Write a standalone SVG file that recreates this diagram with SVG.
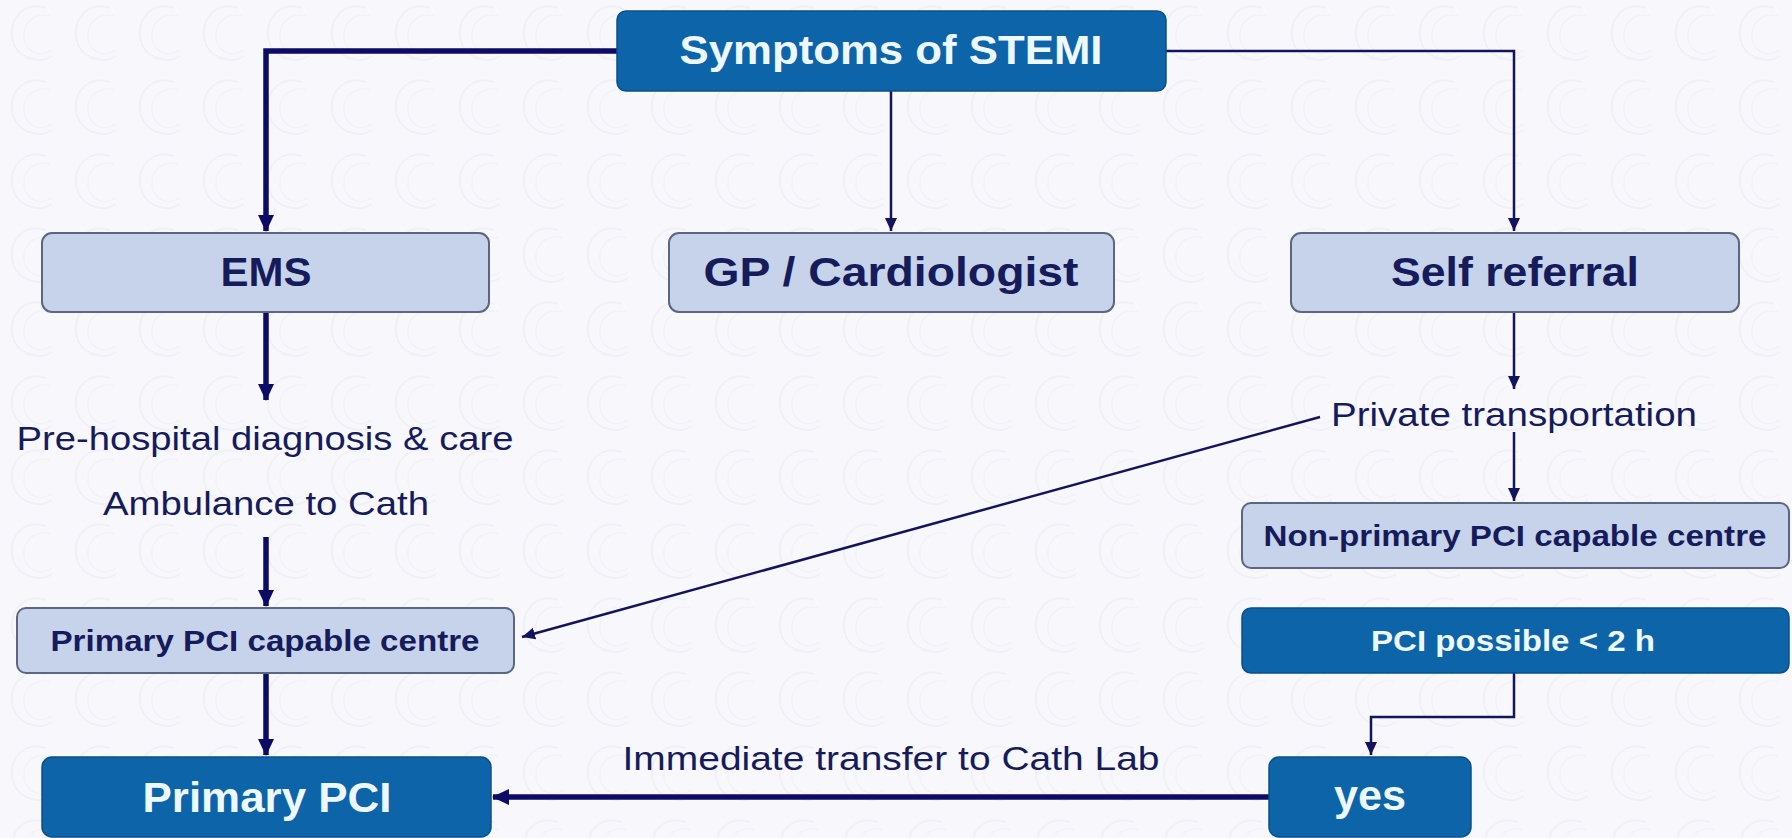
<svg xmlns="http://www.w3.org/2000/svg" width="1792" height="838" viewBox="0 0 1792 838">
<style>
.dark{fill:#0d64a9;stroke:#0b4f8c;stroke-width:1.5}
.light{fill:#c6d3ea;stroke:#5d6680;stroke-width:2}
.t{font-family:"Liberation Sans",Arial,sans-serif;text-anchor:middle;dominant-baseline:central}
.b{font-weight:bold}
.w{fill:#eef8ff}
.n{fill:#161b5c}
.thick{fill:none;stroke:#0c0c66;stroke-width:5.5}
.thin{fill:none;stroke:#14145e;stroke-width:2.5}
</style>
<defs>
<marker id="ah" markerUnits="userSpaceOnUse" markerWidth="18" markerHeight="18" viewBox="0 0 18 18" refX="16" refY="9" orient="auto">
<path d="M0,1 L17,9 L0,17 Z" fill="#0c0c66"/>
</marker>
<marker id="as" markerUnits="userSpaceOnUse" markerWidth="14" markerHeight="14" viewBox="0 0 14 14" refX="13" refY="7" orient="auto">
<path d="M0,1 L13,7 L0,13 Z" fill="#14145e"/>
</marker>
<pattern id="swirl" patternUnits="userSpaceOnUse" width="64" height="74">
<path d="M46,8 C28,2 10,14 12,36 C14,56 36,66 52,56" fill="none" stroke="#f0f0f6" stroke-width="2"/>
<path d="M50,16 C36,12 22,22 24,38 C26,52 40,58 52,50" fill="none" stroke="#f2f2f7" stroke-width="1.5"/>
</pattern>
</defs>
<rect x="0" y="0" width="1792" height="838" fill="#f8f8fc"/>
<rect x="0" y="0" width="1792" height="838" fill="url(#swirl)"/>

<g id="connectors">
<path class="thick" d="M617,51 H266 V231" marker-end="url(#ah)"/>
<path class="thin" d="M891,91 V231" marker-end="url(#as)"/>
<path class="thin" d="M1166,51 H1514 V231" marker-end="url(#as)"/>
<path class="thick" d="M266,312 V400" marker-end="url(#ah)"/>
<path class="thick" d="M266,537 V606" marker-end="url(#ah)"/>
<path class="thick" d="M266,673 V755" marker-end="url(#ah)"/>
<path class="thin" d="M1514,312 V389" marker-end="url(#as)"/>
<path class="thin" d="M1514,432 V501" marker-end="url(#as)"/>
<path class="thin" d="M1320,417 L522,637" marker-end="url(#as)"/>
<path class="thin" d="M1514,673 V717 H1371 V755" marker-end="url(#as)"/>
<path class="thick" d="M1269,797 H493" marker-end="url(#ah)"/>
</g>

<g id="symptoms">
<rect class="dark" x="617" y="11" width="549" height="80" rx="9"/>
<text class="t b w" x="891" y="50" font-size="41" textLength="423" lengthAdjust="spacingAndGlyphs">Symptoms of STEMI</text>
</g>
<g id="ems">
<rect class="light" x="42" y="233" width="447" height="79" rx="10"/>
<text class="t b n" x="266" y="272" font-size="41" textLength="91" lengthAdjust="spacingAndGlyphs">EMS</text>
</g>
<g id="gp">
<rect class="light" x="669" y="233" width="445" height="79" rx="10"/>
<text class="t b n" x="891" y="272" font-size="41" textLength="375" lengthAdjust="spacingAndGlyphs">GP / Cardiologist</text>
</g>
<g id="self">
<rect class="light" x="1291" y="233" width="448" height="79" rx="10"/>
<text class="t b n" x="1515" y="272" font-size="41" textLength="248" lengthAdjust="spacingAndGlyphs">Self referral</text>
</g>
<g id="prehospital">
<text class="t n" x="265" y="438" font-size="34" textLength="497" lengthAdjust="spacingAndGlyphs">Pre-hospital diagnosis &amp; care</text>
</g>
<g id="ambulance">
<text class="t n" x="266" y="503" font-size="34" textLength="326" lengthAdjust="spacingAndGlyphs">Ambulance to Cath</text>
</g>
<g id="private">
<text class="t n" x="1514" y="414" font-size="34" textLength="366" lengthAdjust="spacingAndGlyphs">Private transportation</text>
</g>
<g id="primary-capable">
<rect class="light" x="17" y="608" width="497" height="65" rx="9"/>
<text class="t b n" x="265" y="640" font-size="30" textLength="429" lengthAdjust="spacingAndGlyphs">Primary PCI capable centre</text>
</g>
<g id="non-primary">
<rect class="light" x="1242" y="503" width="547" height="65" rx="9"/>
<text class="t b n" x="1515" y="535" font-size="30" textLength="503" lengthAdjust="spacingAndGlyphs">Non-primary PCI capable centre</text>
</g>
<g id="pci-possible">
<rect class="dark" x="1242" y="608" width="547" height="65" rx="9"/>
<text class="t b w" x="1513" y="640" font-size="30" textLength="284" lengthAdjust="spacingAndGlyphs">PCI possible &lt; 2 h</text>
</g>
<g id="primary-pci">
<rect class="dark" x="42" y="757" width="449" height="80" rx="10"/>
<text class="t b w" x="267" y="797" font-size="43" textLength="249" lengthAdjust="spacingAndGlyphs">Primary PCI</text>
</g>
<g id="yes">
<rect class="dark" x="1269" y="757" width="202" height="80" rx="10"/>
<text class="t b w" x="1370" y="795" font-size="43" textLength="72" lengthAdjust="spacingAndGlyphs">yes</text>
</g>
<g id="transfer-label">
<text class="t n" x="891" y="758" font-size="34" textLength="537" lengthAdjust="spacingAndGlyphs">Immediate transfer to Cath Lab</text>
</g>
</svg>
